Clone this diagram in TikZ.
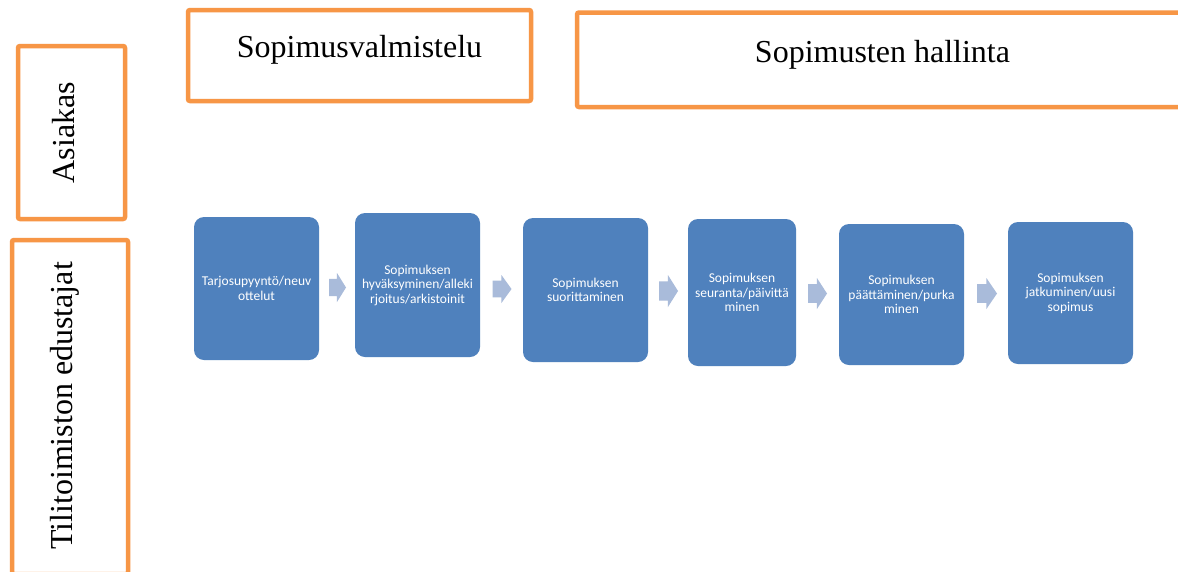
\documentclass[tikz,border=0pt]{standalone}
\usepackage{fontspec}
\setmainfont{Liberation Serif}
\newfontfamily\calfont{Carlito}
\definecolor{orng}{HTML}{F79646}
\definecolor{bblue}{HTML}{4F81BD}
\definecolor{lblue}{HTML}{A9BBDA}
\tikzset{
  obox/.style={draw=orng, line width=4.5pt, rounded corners=2pt},
  title/.style={font=\fontsize{32}{36}\selectfont, inner sep=0pt, anchor=base},
  stepbox/.style={fill=bblue, rounded corners=10pt, text=white, align=center,
    font=\calfont\fontsize{13.5}{14.5}\selectfont, inner sep=2pt},
  flowarrow/.style={fill=lblue}
}
% #1 = centre coordinate name, #2 = length, #3 = height
\newcommand\myflowarr[3]{%
  \fill[flowarrow] ([shift={(-#2/2,-0.3*#3)}]#1) -- ([shift={(-#2/2+0.47*#2,-0.3*#3)}]#1)
    -- ([shift={(-#2/2+0.47*#2,-0.5*#3)}]#1) -- ([shift={(#2/2,0)}]#1)
    -- ([shift={(-#2/2+0.47*#2,0.5*#3)}]#1) -- ([shift={(-#2/2+0.47*#2,0.3*#3)}]#1)
    -- ([shift={(-#2/2,0.3*#3)}]#1) -- cycle;}
\begin{document}
\begin{tikzpicture}[x=1pt,y=-1pt]
\clip (0,0) rectangle (1178,571);
\fill[white] (0,0) rectangle (1178,571);
% orange frames
\draw[obox] (188,10) rectangle (531,101);
\draw[obox] (577,12.5) rectangle (1190,107);
\draw[obox] (18,46) rectangle (125,219);
\draw[obox] (12,240) rectangle (128,574);
% titles
\node[title] (t1) at (359.5,57) {Sopimusvalmistelu};
\node[title] (t2) at (882.5,62) {Sopimusten hallinta};
\node[title, rotate=90] (t3) at (74,132.5) {Asiakas};
\node[title, rotate=90] (t4) at (72,406) {Tilitoimiston edustajat};
% steps
\node[stepbox, minimum width=125pt, minimum height=143pt] (b1) at (256.5,288.5) {Tarjosupyyntö/neuv\\ottelut};
\node[stepbox, minimum width=125pt, minimum height=144pt] (b2) at (417.5,285) {Sopimuksen\\hyväksyminen/alleki\\rjoitus/arkistoinit};
\node[stepbox, minimum width=125pt, minimum height=144pt] (b3) at (585.5,290) {Sopimuksen\\suorittaminen};
\node[stepbox, minimum width=108pt, minimum height=147pt] (b4) at (742,292.5) {Sopimuksen\\seuranta/päivittä\\minen};
\node[stepbox, minimum width=125pt, minimum height=141pt] (b5) at (901.5,294.5) {Sopimuksen\\päättäminen/purka\\minen};
\node[stepbox, minimum width=125pt, minimum height=142pt] (b6) at (1070.5,293) {Sopimuksen\\jatkuminen/uusi\\sopimus};
% arrows
\coordinate (a1) at (337.5,287.5);
\coordinate (a2) at (502,289);
\coordinate (a3) at (668.5,291);
\coordinate (a4) at (817.5,293.5);
\coordinate (a5) at (987,293.5);
\myflowarr{a1}{17}{29}
\myflowarr{a2}{19}{28}
\myflowarr{a3}{19}{32}
\myflowarr{a4}{19}{31}
\myflowarr{a5}{20}{31}
\end{tikzpicture}
\end{document}
